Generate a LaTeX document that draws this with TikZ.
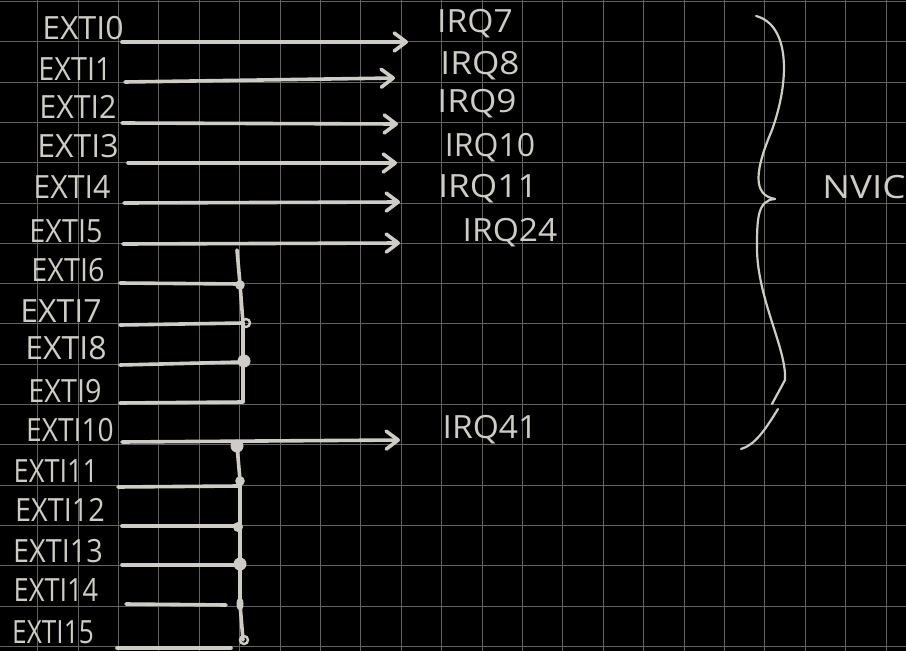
\documentclass[tikz,border=0pt]{standalone}
\usepackage{fontspec}
\setmainfont{Open Sans}
\usetikzlibrary{arrows.meta}
\definecolor{ink}{HTML}{CFCCC5}
\definecolor{gridc}{HTML}{636363}
\begin{document}
\begin{tikzpicture}[x=1pt,y=-1pt,
  lbl/.style={text=ink,font=\fontsize{32}{32}\selectfont,inner sep=0pt},
  wire/.style={draw=ink,line width=3.6pt,line cap=round,line join=round},
  arr/.style={wire,-{Straight Barb[length=12pt,width=18pt,round]}},
  dotf/.style={fill=ink,draw=none},
  doto/.style={draw=ink,line width=2.4pt}]
\fill[black] (0,0) rectangle (906,651);
\useasboundingbox (0,0) rectangle (906,651);
% grid
\foreach \k in {1,...,22} \draw[gridc,line width=1pt] ({-2.7+40.4*\k},0) -- ({-2.7+40.4*\k},651);
\foreach \k in {0,...,16} \draw[gridc,line width=1pt] (0,{1.5+40.3*\k}) -- (906,{1.5+40.3*\k});
% EXTI labels
\foreach \n/\x/\y/\t/\s in {0/83/28/EXTI0/1, 1/75/69/EXTI1/0.9, 2/78/107/EXTI2/0.95, 3/78/146/EXTI3/1,
  4/72/187/EXTI4/0.95, 5/66/231/EXTI5/0.9, 6/68/270/EXTI6/0.9, 7/61/311/EXTI7/1, 8/66/348/EXTI8/1,
  9/65/391/EXTI9/0.9, 10/70/430/EXTI10/0.88, 11/56/471/EXTI11/0.85, 12/60/510/EXTI12/0.9,
  13/58/551/EXTI13/0.9, 14/56/590/EXTI14/0.85, 15/53/632/EXTI15/0.82}
  \node[lbl,xscale=\s] (e\n) at (\x,\y) {\t};
% IRQ labels
\foreach \n/\x/\y/\s in {7/475/24/1.05, 8/480/66/1.1, 9/477/104/1.1, 10/490/148/1, 11/488/189/1.1, 24/510/233/1.05, 41/490/430/1.05}
  \node[lbl,xscale=\s] (q\n) at (\x,\y) {IRQ\n};
\node[lbl,xscale=1.15] (nvic) at (864,187) {NVIC};
% direct arrows
\foreach \n/\xs/\ys/\xe/\ye in {0/122/42/408/42, 1/125/82/395/78, 2/122/123/398/124,
  3/128/163/397/163, 4/124/203/400/202, 5/123/244/400/243, 10/122/442/400/440} {
  \coordinate (s\n) at (\xs,\ys);
  \coordinate (t\n) at (\xe,\ye);
  \draw[arr] (s\n) -- (t\n);
}
% lines into buses
\foreach \n/\xs/\ys/\xe/\ye in {6/120/283/240/284, 7/120/325/243/323, 8/120/365/243/362,
  9/120/403/243/402, 11/118/487/238/486, 12/122/526/238/526, 13/122/565/240/565,
  14/126/604/226/605, 15/117/648/231/648} {
  \coordinate (s\n) at (\xs,\ys);
  \coordinate (t\n) at (\xe,\ye);
  \draw[wire] (s\n) -- (t\n);
}
% bus 1
\coordinate (b1top) at (237,250);
\draw[wire] (b1top) -- (t6) -- (t7) -- (t8) -- (t9);
% bus 2
\coordinate (b2top) at (237,446);
\coordinate (b2bot) at (243,640);
\draw[wire] (b2top) -- (240,480) -- (240,604) -- (b2bot);
% junction marks
\draw[doto] (240,285) circle (3.5);
\draw[doto] (246,323) circle (4);
\fill[dotf] (244,361) circle (6.5);
\fill[dotf] (237,446) circle (6.5);
\draw[doto] (240,481) circle (3.5);
\fill[dotf] (238,527) circle (5);
\fill[dotf] (240,564) circle (6.5);
\fill[dotf] (240,604) ellipse (3.5 and 6.5);
\draw[doto] (244,640) circle (4);
% brace
\draw[wire,line width=2.2pt] (756,16) .. controls (790,25) and (790,80) .. (772,130)
  .. controls (755,170) and (752,195) .. (775,199);
\draw[wire,line width=2.2pt] (775,199) .. controls (757,200) and (757,220) .. (757,250)
  .. controls (758,300) and (787,350) .. (785,380) -- (772,404);
\draw[wire,line width=2.2pt] (778,409) .. controls (765,430) and (755,445) .. (741,449);
\end{tikzpicture}
\end{document}
